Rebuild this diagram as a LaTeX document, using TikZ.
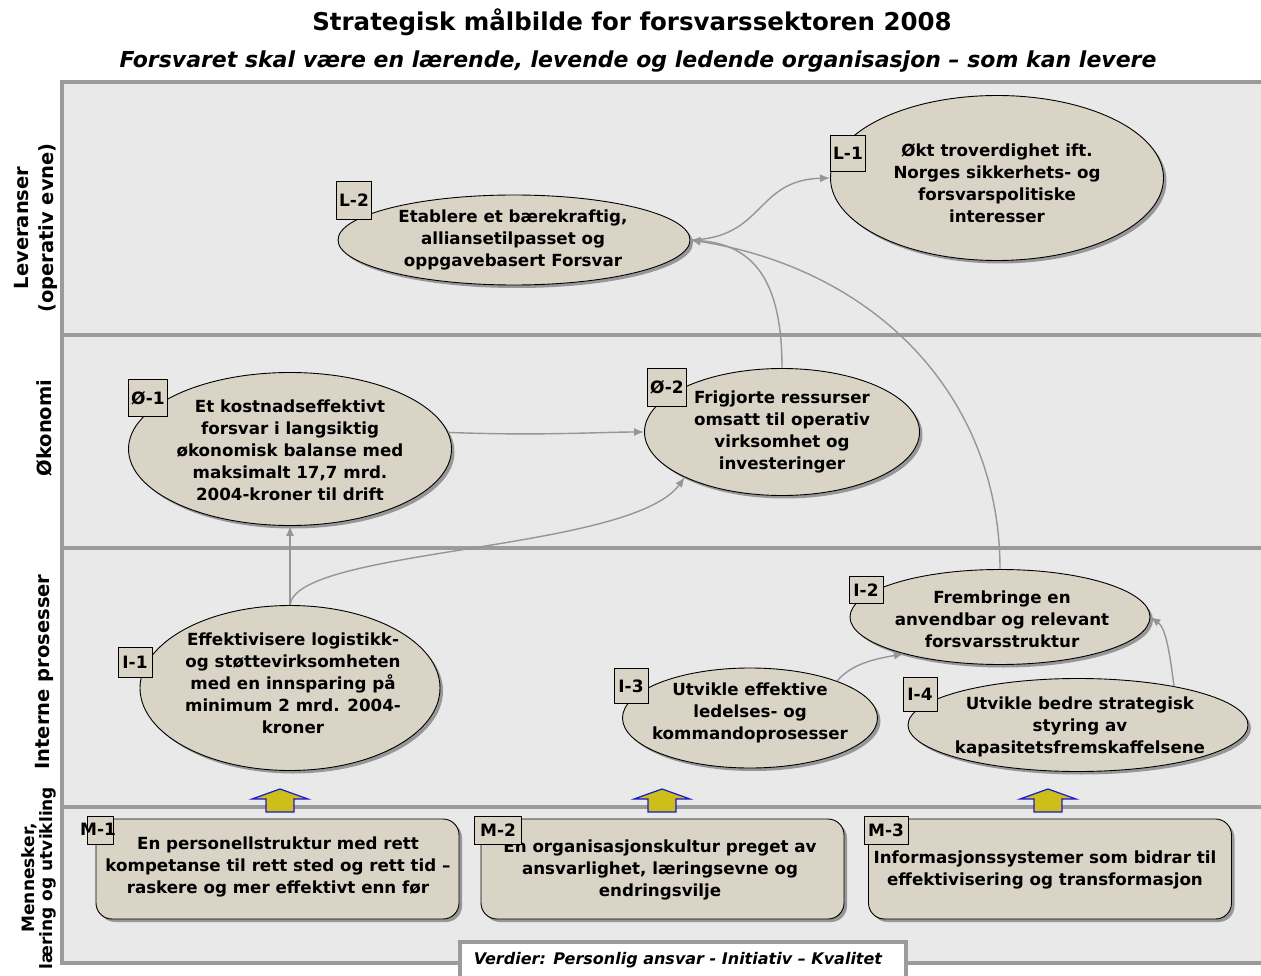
\documentclass[tikz,border=0pt]{standalone}
\usepackage{fontspec}
\setmainfont{DejaVu Sans}
\usetikzlibrary{shapes.geometric,shadows,arrows.meta}
\definecolor{bgc}{RGB}{233,233,233}
\definecolor{frameg}{RGB}{155,155,155}
\definecolor{goalf}{RGB}{217,212,197}
\definecolor{conng}{RGB}{150,150,150}
\definecolor{arrY}{RGB}{205,190,25}
\definecolor{arrB}{RGB}{25,25,210}
\begin{document}
\begin{tikzpicture}[x=1pt,y=-1pt,
  goal/.style={ellipse, draw=black, line width=0.9pt, fill=goalf, inner sep=0pt,
     drop shadow={shadow xshift=3pt, shadow yshift=-3pt, fill=black, opacity=0.35}},
  gtext/.style={align=center, font=\fontsize{16.7}{22}\selectfont\bfseries, inner sep=0pt},
  tag/.style={draw=black, line width=0.9pt, fill=goalf, font=\fontsize{17}{19}\selectfont\bfseries, inner sep=3pt, minimum width=34pt},
  tagtext/.style={font=\fontsize{17}{19}\selectfont\bfseries, inner sep=0pt},
  mbox/.style={draw=black, line width=0.9pt, fill=goalf, rounded corners=16pt, minimum width=363pt, minimum height=100pt,
     drop shadow={shadow xshift=3pt, shadow yshift=-3pt, fill=black, opacity=0.35}},
  conn/.style={draw=conng, line width=1.4pt, -{Latex[length=10pt,width=8pt]}},
  lane/.style={draw=frameg, line width=4pt},
  lanelabel/.style={rotate=90, align=center, font=\fontsize{19.5}{25}\selectfont\bfseries, inner sep=0pt},
  uparrow/.style={fill=arrY, draw=arrB, line width=1.2pt},
]
\useasboundingbox (0,0) rectangle (1261,976);
% background and lanes
\fill[bgc] (62,82) rectangle (1261,963);
\draw[lane] (1261,82) -- (62,82) -- (62,963) -- (1261,963);
\draw[lane] (62,335) -- (1261,335);
\draw[lane] (62,548) -- (1261,548);
\draw[lane] (62,807) -- (1261,807);

% titles
\node[font=\fontsize{24.5}{27}\selectfont\bfseries] (title) at (632,22) {Strategisk målbilde for forsvarssektoren 2008};
\node[font=\fontsize{22}{24}\selectfont\bfseries\itshape] (sub) at (638,62) {Forsvaret skal være en lærende, levende og ledende organisasjon – som kan levere};

% lane labels
\node[lanelabel] (lab1) at (36,228) {Leveranser\\(operativ evne)};
\node[lanelabel] (lab2) at (44,428) {Økonomi};
\node[lanelabel] (lab3) at (44,672) {Interne prosesser};
\node[lanelabel, font=\fontsize{17}{18.5}\selectfont\bfseries] (lab4) at (39,878) {Mennesker,\\læring og utvikling};

% goals
\node[goal, minimum width=333pt, minimum height=165pt] (L1) at (997,178) {};
\node[goal, minimum width=352pt, minimum height=90pt] (L2) at (514,240) {};
\node[goal, minimum width=323pt, minimum height=153pt] (O1) at (290,449) {};
\node[goal, minimum width=275pt, minimum height=127pt] (O2) at (782,432) {};
\node[goal, minimum width=300pt, minimum height=165pt] (I1) at (290,688) {};
\node[goal, minimum width=300pt, minimum height=95pt] (I2) at (1000,617) {};
\node[goal, minimum width=255pt, minimum height=100pt] (I3) at (750,718) {};
\node[goal, minimum width=340pt, minimum height=93pt] (I4) at (1078,725) {};

\node[gtext] (L1t) at (997,183) {Økt troverdighet ift.\\Norges sikkerhets- og\\forsvarspolitiske\\interesser};
\node[gtext] (L2t) at (513,240) {Etablere et bærekraftig,\\alliansetilpasset og\\oppgavebasert Forsvar};
\node[gtext] (O1t) at (290,450) {Et kostnadseffektivt\\forsvar i langsiktig\\økonomisk balanse med\\maksimalt 17,7 mrd.\\2004-kroner til drift};
\node[gtext] (O2t) at (782,432) {Frigjorte ressurser\\omsatt til operativ\\virksomhet og\\investeringer};
\node[gtext] (I1t) at (293,683) {Effektivisere logistikk-\\og støttevirksomheten\\med en innsparing på\\minimum 2 mrd. 2004-\\kroner};
\node[gtext] (I2t) at (1002,619) {Frembringe en\\anvendbar og relevant\\forsvarsstruktur};
\node[gtext] (I3t) at (750,713) {Utvikle effektive\\ledelses- og\\kommandoprosesser};
\node[gtext] (I4t) at (1080,727) {Utvikle bedre strategisk\\styring av\\kapasitetsfremskaffelsene};

% tags
\node[tag, minimum height=36pt] (L1g) at (848,153) {L-1};
\node[tag, minimum height=38pt] (L2g) at (354,200) {L-2};
\node[tag, minimum height=37pt] (O1g) at (148,398) {Ø-1};
\node[tag, minimum height=38pt] (O2g) at (667,387) {Ø-2};
\node[tag, minimum height=30pt] (I1g) at (135,662) {I-1};
\node[tag, minimum height=27pt] (I2g) at (866,590) {I-2};
\node[tag, minimum height=35pt] (I3g) at (631,686) {I-3};
\node[tag, minimum height=34pt] (I4g) at (920,694) {I-4};

% connectors
\draw[conn] (L2.east) .. controls (765,238) and (755,180) .. (L1.west);
\draw[conn] (O1.6) .. controls (540,436) and (600,432) .. (O2.west);
\draw[conn] (I1.north) -- (O1.south);
\draw[conn] (I1.north) .. controls (296,548) and (630,552) .. (O2.205);
\draw[conn] (O2.north) .. controls (782,290) and (760,245) .. (L2.east);
\draw[conn] (I2.north) .. controls (1000,400) and (880,270) .. (L2.east);
\draw[conn] (I3.23) .. controls (850,666) and (868,660) .. (I2.201);
\draw[conn] (I4.22) .. controls (1170,655) and (1166,628) .. (I2.east);

% people boxes
\node[mbox] (M1) at (277.5,869) {};
\node[mbox] (M2) at (662.5,869) {};
\node[mbox] (M3) at (1050,869) {};
\node[gtext] (M1t) at (278,867) {En personellstruktur med rett\\kompetanse til rett sted og rett tid –\\raskere og mer effektivt enn før};
\node[gtext] (M2t) at (660,870) {En organisasjonskultur preget av\\ansvarlighet, læringsevne og\\endringsvilje};
\node[gtext] (M3t) at (1045,870) {Informasjonssystemer som bidrar til\\effektivisering og transformasjon};
\node[draw=black, line width=0.9pt, fill=goalf, minimum width=26pt, minimum height=28pt, inner sep=0pt] (M1g) at (100,830) {};
\node[tagtext] (M1gt) at (98,829) {M-1};
\node[tag, minimum height=28pt, minimum width=47pt] (M2g) at (498,830) {M-2};
\node[tag, minimum height=28pt, minimum width=44pt] (M3g) at (886,830) {M-3};

% yellow arrows
\foreach \cx in {280,662,1048}{
  \draw[uparrow] (\cx,789) -- (\cx+28,799) -- (\cx+14,799) -- (\cx+14,812) -- (\cx-14,812) -- (\cx-14,799) -- (\cx-28,799) -- cycle;
}

% values box
\node[draw=frameg, line width=4pt, fill=white, minimum width=446pt, minimum height=60pt, anchor=north west, inner sep=0pt] (verdi) at (458,940) {};
\node[font=\fontsize{16}{18}\selectfont\bfseries\itshape, inner sep=0pt] (verdit) at (678,960) {Verdier: Personlig ansvar - Initiativ – Kvalitet};
\end{tikzpicture}
\end{document}
